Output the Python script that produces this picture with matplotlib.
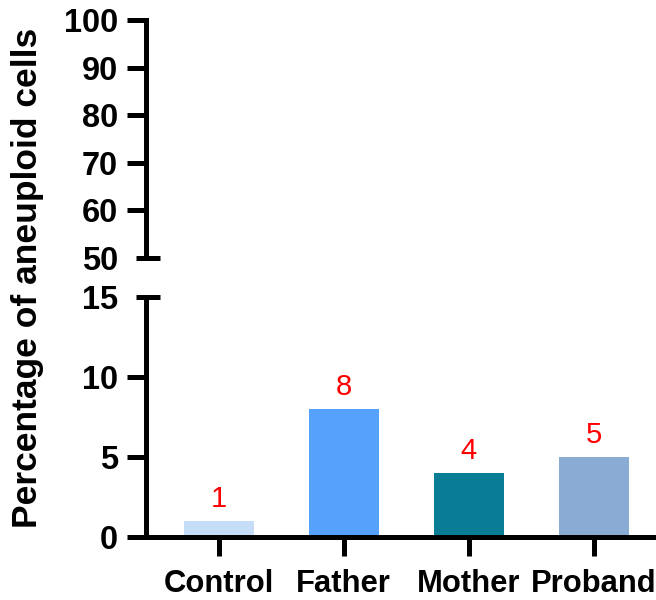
import matplotlib.pyplot as plt

groups = ["Control", "Father", "Mother", "Proband"]
values = [1, 8, 4, 5]
colors = ["#c6ddf7", "#55a1fb", "#0a7d96", "#8aabd3"]
top_ticks = [50, 60, 70, 80, 90, 100]
bottom_ticks = [0, 5, 10, 15]

plt.rcParams["font.family"] = ["Liberation Sans", "DejaVu Sans"]
plt.rcParams["font.weight"] = "bold"
lw = 3.6

fig = plt.figure(figsize=(6.56, 6.0), dpi=100)
ax_top = fig.add_axes([0.2226, 0.57, 0.7774, 0.3965])
ax_bot = fig.add_axes([0.2226, 0.105, 0.7774, 0.40])

x = range(len(groups))
ax_bot.bar(x, values, width=0.56, color=colors, edgecolor="none")
for i, v in enumerate(values):
    ax_bot.annotate(str(v), (i, v), xytext=(0, 10), textcoords="offset points",
                    ha="center", va="baseline", color="red", fontsize=21,
                    fontweight="normal")

for ax in (ax_top, ax_bot):
    ax.set_xlim(-0.58, 3.5)
    for s in ("top", "right"):
        ax.spines[s].set_visible(False)
    ax.spines["left"].set_linewidth(lw)
    ax.tick_params(axis="y", length=14, width=lw, pad=6, labelsize=23.5)

ax_top.set_ylim(50, 100)
ax_top.set_yticks(top_ticks)
ax_top.spines["bottom"].set_visible(False)
ax_top.set_xticks([])
ax_top.yaxis.get_major_ticks()[0].tick1line.set_visible(False)
ax_top.plot([-0.02, 0.028], [0, 0], transform=ax_top.transAxes, clip_on=False,
            color="black", lw=lw, solid_capstyle="butt")

ax_bot.set_ylim(0, 15)
ax_bot.set_yticks(bottom_ticks)
ax_bot.yaxis.get_major_ticks()[-1].tick1line.set_visible(False)
ax_bot.plot([-0.02, 0.028], [1, 1], transform=ax_bot.transAxes, clip_on=False,
            color="black", lw=lw, solid_capstyle="butt")
ax_bot.spines["bottom"].set_linewidth(lw)
ax_bot.set_xticks(list(x))
ax_bot.set_xticklabels(groups)
ax_bot.tick_params(axis="x", length=14, width=lw, pad=9, labelsize=22.3)

fig.text(28 / 656, 0.5375, "Percentage of aneuploid cells", rotation=90,
         ha="center", va="center", fontsize=25.5, fontweight="bold")

fig.savefig("out.png", dpi=100)
